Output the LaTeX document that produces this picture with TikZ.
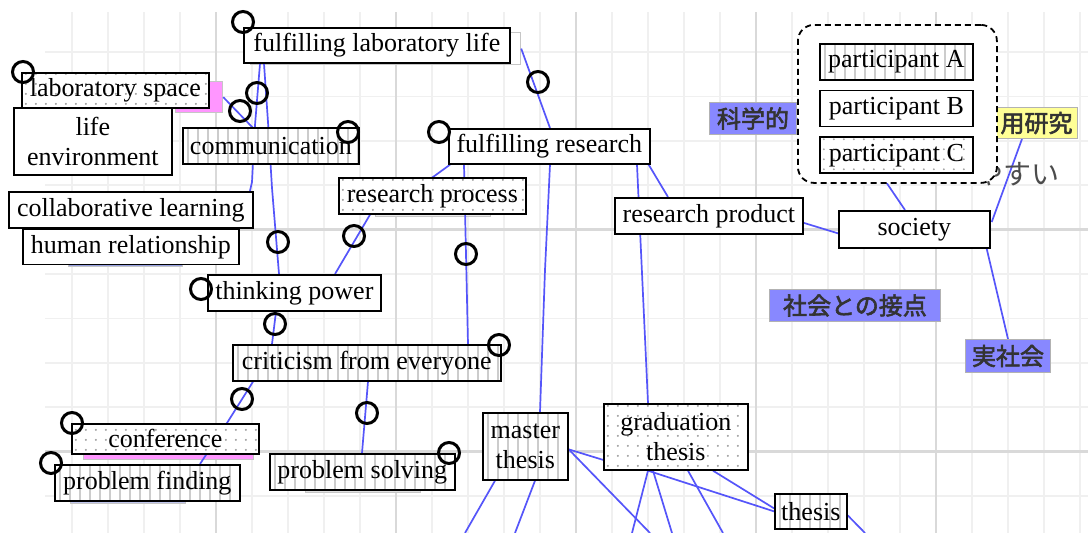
\documentclass[tikz,border=0pt]{standalone}
\usepackage{fontspec}
\setmainfont{Liberation Serif}
\newfontfamily\jpfont[FakeBold=2.5]{Noto Sans CJK JP}
\newfontfamily\jplight{Noto Sans CJK JP}
\usepackage{xcolor}
\usepackage{tikz}
\usetikzlibrary{positioning, calc}
\definecolor{linkblue}{RGB}{85,85,250}
\definecolor{jpblue}{RGB}{136,136,255}
\definecolor{jpyellow}{RGB}{255,255,150}
\definecolor{labpink}{RGB}{255,150,255}
\definecolor{humblue}{RGB}{150,160,225}
\pgfdeclarelayer{gridlayer}
\pgfdeclarelayer{linklayer}
\pgfsetlayers{gridlayer,linklayer,main}
\newcommand\mapfont{\fontsize{26}{30}\selectfont}
\newcommand\jpsize{\fontsize{24}{26}\selectfont}

\begin{document}
\begin{tikzpicture}[
		x=1pt, y=-1pt,
		node distance=9pt,
		tag/.style={rectangle, draw, line width=1.7pt, fill=white, anchor=north west, inner sep=1pt, align=center, font=\mapfont},
		stripetag/.style={tag, path picture={
				\foreach \k in {0,...,28}
				\draw[gray!40, line width=1.8pt] ([xshift=\k*10pt+5pt]path picture bounding box.south west) -- ([xshift=\k*10pt+5pt]path picture bounding box.north west);}},
		dottag/.style={tag, path picture={
				\foreach \i in {0,...,27}
				\foreach \j in {0,...,7}
				\fill[gray!75] ([shift={(\i*10pt+4pt,\j*10pt+4pt)}]path picture bounding box.south west) circle[radius=1.1pt];}},
		jptag/.style={rectangle, draw=gray!60, line width=1pt, fill=jpblue, anchor=north west, inner sep=1pt, text=black!80, font=\jpfont\jpsize},
		shade/.style={rectangle, draw=gray!45, line width=1.2pt, anchor=north west, inner sep=0pt},
		ring/.style={circle, draw, line width=3pt, minimum size=21pt, inner sep=0pt},
		panel/.style={rectangle, draw, line width=1.8pt, dash pattern=on 6pt off 4pt, rounded corners=16pt, fill=white, anchor=north west},
		link/.style={draw=linkblue, line width=1.7pt}
	]
	\useasboundingbox (0,0) rectangle (1088,533);

	% 1. Label Jepang dari peta asli
	\node[jptag, minimum width=87, minimum height=32] (kagaku) at (709,102) {科学的};
	\node[jptag, fill=jpyellow, minimum width=82, minimum height=31] (ouyou) at (995,107) {用研究};
	\node[jptag, minimum width=171, minimum height=32] (setten) at (769,289) {社会との接点};
	\node[jptag, minimum width=85, minimum height=33] (jissha) at (965,339) {実社会};
	\node[font=\jplight\fontsize{28}{30}\selectfont, text=black!70] (yasui) at (1017,174) {やすい};

	% 2. Kotak peserta dengan garis putus-putus
	\node[panel, minimum width=199, minimum height=158] (panel) at (797,24) {};
	\node[stripetag, minimum width=153, minimum height=36] (partA) at (819,43) {participant A};
	\node[tag, minimum width=153, minimum height=36, below=9pt of partA] (partB) {participant B};
	\node[dottag, minimum width=153, minimum height=36, below=9pt of partB] (partC) {participant C};

	% 3. Label anotasi
	\node[tag, minimum width=266, minimum height=35] (lablife) at (243,27) {fulfilling laboratory life};
	\node[dottag, minimum width=187, minimum height=35] (labspace) at (21,72) {laboratory space};
	\node[tag, minimum width=158, minimum height=67] (lifeenv) at (13,107) {life\\environment};
	\node[stripetag, minimum width=176, minimum height=36] (comm) at (182,127) {communication};
	\node[tag, minimum width=244, minimum height=36] (collab) at (8,191) {collaborative learning};
	\node[tag, minimum width=216, minimum height=35, below=0pt of collab] (human) {human relationship};
	\node[dottag, minimum width=187, minimum height=36] (resproc) at (338,177) {research process};
	\node[tag, minimum width=201, minimum height=35] (fulres) at (448,128) {fulfilling research};
	\node[tag, minimum width=188, minimum height=36] (resprod) at (614,197) {research product};
	\node[tag, minimum width=151, minimum height=37] (society) at (838,210) {society};
	\node[tag, minimum width=173, minimum height=36] (think) at (207,274) {thinking power};
	\node[stripetag, minimum width=268, minimum height=36] (critic) at (232,344) {criticism from everyone};
	\node[dottag, minimum width=187, minimum height=30] (conf) at (71,423) {conference};
	\node[stripetag, minimum width=185, minimum height=36] (probfind) at (54,464) {problem finding};
	\node[stripetag, minimum width=185, minimum height=36] (probsolve) at (269,453) {problem solving};
	\node[stripetag, minimum width=85, minimum height=67] (master) at (482,412) {master\\thesis};
	\node[dottag, minimum width=144, minimum height=66] (grad) at (603,403) {graduation\\thesis};
	\node[stripetag, minimum width=72, minimum height=35] (thesis) at (774,493) {thesis};

	% 4. Lingkaran penanda
	\foreach \rx/\ry [count=\i] in {243/22, 23/72, 257/93, 240/111, 348/132, 439/132, 538/82, 278/242, 354/236, 466/254, 201/289, 275/324, 499/345, 242/399, 367/413, 72/423, 51/463, 449/453}
	\node[ring] (m\i) at (\rx,\ry) {};

	% 5. Grid latar belakang
	\begin{pgfonlayer}{gridlayer}
		\fill[white] (0,0) rectangle (1088,533);
		\foreach \gx in {72,108,...,1080}
		\draw[gray!12, line width=1.5pt] (\gx,12) -- (\gx,533);
		\foreach \gy in {52,96.4,...,520}
		\draw[gray!12, line width=1.5pt] (45,\gy) -- (1088,\gy);
		\foreach \gx in {216,396,...,936}
		\draw[gray!30, line width=2.5pt] (\gx,12) -- (\gx,533);
		\foreach \gy in {229.6,451.6}
		\draw[gray!30, line width=2.5pt] (45,\gy) -- (1088,\gy);
	\end{pgfonlayer}

	% 6. Sisa label asli dan garis hubungan biru
	\begin{pgfonlayer}{linklayer}
		\node[shade, fill=white, minimum width=270, minimum height=32] (labshade) at (250,32) {};
		\node[shade, fill=labpink, minimum width=47, minimum height=31] (labpinkbox) at (175,81) {};
		\node[shade, fill=humblue, minimum width=114, minimum height=15] (humshade) at (68,251) {};
		\node[shade, fill=labpink, minimum width=170, minimum height=18] (confpink) at (83,441) {};
		\node[shade, fill=humblue!60, minimum width=115, minimum height=12] (pfshade) at (70,491) {};
		\node[shade, fill=gray!25, minimum width=115, minimum height=12] (psshade) at (305,480) {};
		\node[shade, fill=gray!15, minimum width=115, minimum height=10] (rpshade) at (375,206) {};

		\coordinate (b1) at (465,533);
		\coordinate (b2) at (515,533);
		\coordinate (b3) at (650,533);
		\coordinate (b4) at (632,533);
		\coordinate (b5) at (672,533);
		\coordinate (b6) at (723,533);
		\coordinate (b7) at (865,533);

		\draw[link] ($(lablife.south west)+(17,0)$) -- (255,125) -- (252,182) -- ($(collab.north east)+(-6,10)$);
		\draw[link] ($(lablife.south west)+(21,0)$) -- (268,122) -- (272,188) -- ($(think.north west)+(72,0)$);
		\draw[link] (labpinkbox.east) -- ($(comm.north west)+(72,2)$);
		\draw[link] (labshade.east) -- ($(fulres.north west)+(102,0)$);
		\draw[link] ($(fulres.south west)+(2,0)$) -- ($(resproc.north west)+(95,0)$) -- ($(resproc.south west)+(32,0)$) -- ($(think.north west)+(128,0)$);
		\draw[link] ($(fulres.south west)+(16,0)$) -- ($(critic.north west)+(236,0)$);
		\draw[link] ($(fulres.south west)+(102,0)$) -- (545,270) -- ($(master.north west)+(58,0)$);
		\draw[link] ($(fulres.south west)+(189,0)$) -- ($(grad.north west)+(45,0)$);
		\draw[link] ($(fulres.south east)+(-2,0)$) -- ($(resprod.north west)+(54,0)$);
		\draw[link] ($(resprod.east)+(0,7)$) -- ($(society.west)+(0,4)$);
		\draw[link] (kagaku.east) -- (886,182) -- ($(society.north west)+(67,0)$);
		\draw[link] ($(society.north east)+(1,12)$) -- ($(ouyou.south west)+(27,0)$);
		\draw[link] ($(society.south east)+(-4,0)$) -- ($(jissha.north west)+(43,0)$);
		\draw[link] ($(think.south west)+(69,0)$) -- ($(critic.north west)+(40,0)$);
		\draw[link] ($(critic.south west)+(21,0)$) -- ($(conf.north west)+(156,0)$) -- ($(probfind.north west)+(146,0)$);
		\draw[link] ($(critic.south west)+(136,0)$) -- ($(probsolve.north west)+(93,0)$);
		\draw[link] ($(master.south west)+(13,0)$) -- (b1);
		\draw[link] ($(master.south west)+(53,0)$) -- (b2);
		\draw[link] ($(master.east)+(0,3)$) -- ($(grad.west)+(0,23)$);
		\draw[link] ($(master.east)+(0,3)$) -- (b3);
		\draw[link] ($(grad.south west)+(45,0)$) -- (b4);
		\draw[link] ($(grad.south west)+(50,0)$) -- (b5);
		\draw[link] ($(grad.south west)+(85,0)$) -- (b6);
		\draw[link] ($(grad.south west)+(45,0)$) -- (thesis.west);
		\draw[link] ($(grad.south west)+(110,0)$) -- ($(thesis.west)+(0,-3)$);
		\draw[link] ($(thesis.east)+(0,4)$) -- (b7);
	\end{pgfonlayer}

\end{tikzpicture}
\end{document}
